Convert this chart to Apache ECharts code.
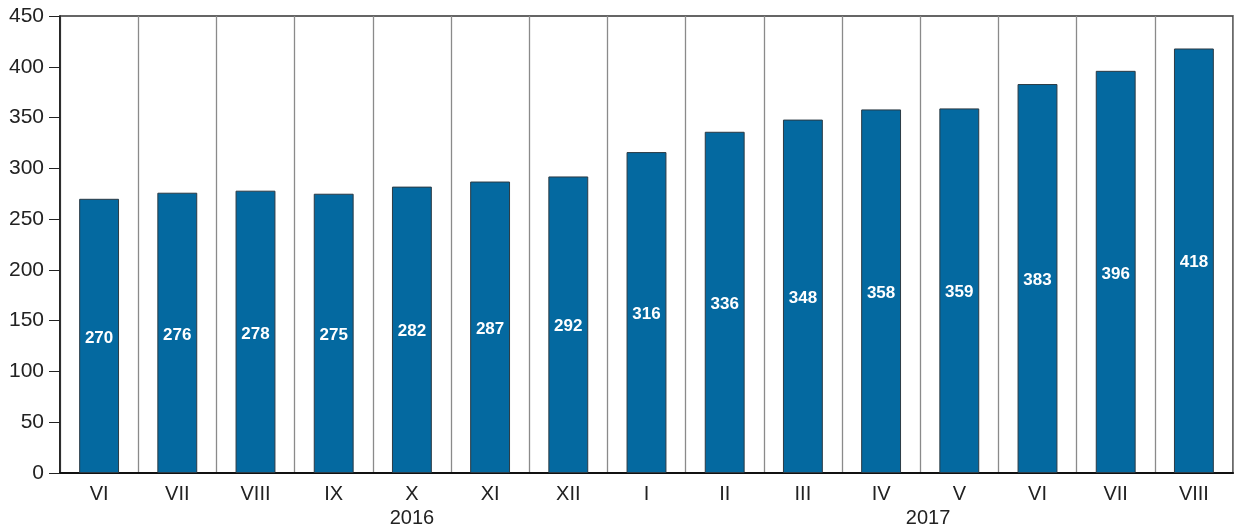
<!DOCTYPE html>
<html>
<head>
<meta charset="utf-8">
<script src="https://cdn.jsdelivr.net/npm/echarts@6/dist/echarts.min.js"></script>
<style>
  html, body { margin: 0; padding: 0; background: #fff; }
  #chart { width: 1234px; height: 526px; }
</style>
</head>
<body>
<div id="chart"></div>
<script>
// Monthly values, June 2016 – August 2017
const months = ['VI', 'VII', 'VIII', 'IX', 'X', 'XI', 'XII', 'I', 'II', 'III', 'IV', 'V', 'VI', 'VII', 'VIII'];
const values = [270, 276, 278, 275, 282, 287, 292, 316, 336, 348, 358, 359, 383, 396, 418];
const yTicks = [0, 50, 100, 150, 200, 250, 300, 350, 400, 450];
// Year captions: category position under which each year is centred
const years = [
  { text: '2016', at: 4 },
  { text: '2017', at: 10.6 }
];

const FONT = '"Liberation Sans", Arial, sans-serif';
const chart = echarts.init(document.getElementById('chart'));

chart.setOption({
  animation: false,
  grid: {
    left: 60, right: 1, top: 16, bottom: 53,
    show: true, borderColor: '#333', borderWidth: 1.5, backgroundColor: '#fff'
  },
  xAxis: {
    type: 'category',
    data: months,
    boundaryGap: true,
    axisLine: { show: true, lineStyle: { color: '#111', width: 2 } },
    axisTick: { show: false },
    splitLine: { show: true, lineStyle: { color: '#8a8a8a', width: 1.3 } },
    axisLabel: { color: '#222', fontFamily: FONT, fontSize: 20, margin: 11 }
  },
  yAxis: {
    type: 'value',
    min: yTicks[0],
    max: yTicks[yTicks.length - 1],
    interval: yTicks[1] - yTicks[0],
    axisLine: { show: true, lineStyle: { color: '#111', width: 1.5 } },
    axisTick: { show: true, inside: false, length: 11, lineStyle: { color: '#222', width: 1 } },
    splitLine: { show: false },
    axisLabel: { color: '#222', fontFamily: FONT, fontSize: 21, margin: 16 }
  },
  series: [{
    type: 'bar',
    data: values,
    barWidth: '51%',
    itemStyle: { color: '#0469a0', borderColor: '#2b3a44', borderWidth: 1 },
    label: {
      show: true,
      position: 'inside',
      offset: [0, 2],
      color: '#fff',
      fontFamily: FONT,
      fontWeight: 'bold',
      fontSize: 17
    }
  }]
});

// Year captions under the month labels
const baseY = chart.convertToPixel({ yAxisIndex: 0 }, 0);
chart.setOption({
  graphic: years.map(y => {
    const lo = Math.floor(y.at), hi = Math.ceil(y.at);
    const xLo = chart.convertToPixel({ xAxisIndex: 0 }, lo);
    const xHi = chart.convertToPixel({ xAxisIndex: 0 }, hi);
    const x = xLo + (xHi - xLo) * (y.at - lo);
    return {
      type: 'text',
      x: x, y: baseY + 45,
      style: {
        text: y.text, fill: '#222', font: '20px ' + FONT,
        textAlign: 'center', textVerticalAlign: 'middle'
      }
    };
  })
});
</script>
</body>
</html>
